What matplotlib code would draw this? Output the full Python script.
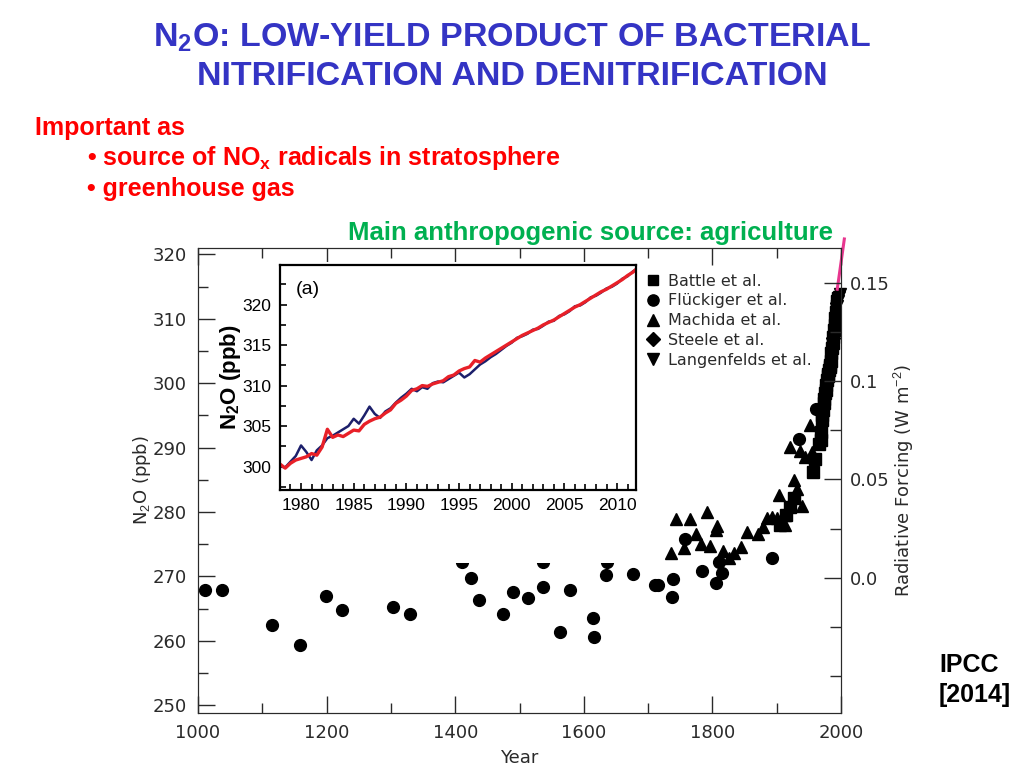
import matplotlib
matplotlib.use("Agg")
import matplotlib.pyplot as plt
from matplotlib.patches import Rectangle
from matplotlib.ticker import MultipleLocator, FixedLocator

plt.rcParams["mathtext.fontset"] = "custom"
plt.rcParams["mathtext.rm"] = "Liberation Sans"
plt.rcParams["mathtext.bf"] = "Liberation Sans:bold"

# ice core / flask records (year, ppb)
battle_yr = [1905, 1915, 1921, 1926, 1956, 1959, 1966, 1968, 1969, 1970, 1971, 1972,
             1973, 1974, 1975, 1976, 1977, 1978, 1979, 1980, 1981, 1982, 1983, 1984,
             1985, 1986, 1987, 1988, 1989, 1990, 1991, 1992, 1993, 1994, 1995, 1996]
battle_ppb = [278.0, 279.5, 280.8, 282.2, 286.2, 288.2, 290.5, 291.2, 292.5, 294.3, 295.0, 295.8,
              297.0, 297.5, 298.5, 299.0, 299.8, 300.5, 301.5, 301.2, 302.0, 302.8, 302.5, 303.5,
              304.7, 305.5, 306.3, 307.2, 308.3, 309.0, 310.2, 311.0, 312.0, 312.8, 313.2, 313.0]

fluckiger_yr = [1011, 1037, 1115, 1159, 1199, 1224, 1303, 1330, 1410, 1424, 1437, 1474,
                1489, 1513, 1537, 1537, 1563, 1578, 1614, 1615, 1634, 1636, 1676, 1711,
                1716, 1737, 1739, 1757, 1784, 1806, 1810, 1815, 1892, 1935, 1961]
fluckiger_ppb = [267.9, 267.9, 262.5, 259.4, 267.0, 264.8, 265.2, 264.1, 272.2, 269.7, 266.3, 264.1,
                 267.6, 266.6, 272.2, 268.3, 261.4, 267.9, 263.6, 260.6, 270.3, 272.2, 270.4, 268.7,
                 268.7, 266.8, 269.6, 275.8, 270.9, 269.0, 272.3, 270.5, 272.9, 291.4, 296.0]

machida_yr = [1735, 1744, 1765, 1756, 1774, 1782, 1791, 1796, 1806, 1807, 1816, 1826,
              1834, 1845, 1854, 1870, 1879, 1884, 1892, 1900, 1904, 1913, 1913, 1926,
              1931, 1939, 1921, 1936, 1944, 1954, 1951]
machida_ppb = [273.6, 278.9, 278.9, 274.4, 276.6, 275.0, 280.0, 274.7, 277.2, 277.8, 274.0, 272.9,
               273.6, 274.6, 276.9, 276.6, 277.7, 279.1, 279.2, 279.1, 282.7, 279.5, 278.0, 285.0,
               283.6, 281.0, 290.1, 289.5, 288.6, 289.3, 293.5]

steele_yr = [1988, 1990, 1992, 1994, 1996, 1998]
steele_ppb = [307.0, 308.8, 310.8, 312.5, 313.3, 313.7]

langenfelds_yr = [1993, 1995, 1997, 1999]
langenfelds_ppb = [312.0, 312.8, 313.4, 313.8]

# pink trend stroke beyond the frame
trend_yr = [1994, 2005]
trend_ppb = [314.6, 322.4]

# inset (a): instrumental record
inset_yr = [1978.0 + 0.5 * i for i in range(69)]
inset_red = [300.3, 299.8, 300.4, 300.8, 301.0, 301.2, 301.6, 301.4, 302.4, 304.6,
             303.6, 303.9, 303.7, 304.1, 304.5, 304.4, 305.2, 305.6, 305.9, 306.1,
             306.6, 307.0, 307.8, 308.2, 308.7, 309.4, 309.6, 310.0, 309.9, 310.2,
             310.4, 310.6, 311.1, 311.3, 311.8, 312.1, 312.3, 313.1, 312.9, 313.4,
             313.8, 314.2, 314.6, 315.0, 315.4, 315.8, 316.2, 316.5, 316.8, 317.1,
             317.5, 317.8, 318.1, 318.5, 318.9, 319.3, 319.7, 320.0, 320.4, 320.8,
             321.2, 321.6, 321.9, 322.3, 322.7, 323.1, 323.6, 324.0, 324.6]
inset_blue = [300.0, 299.9, 300.6, 301.3, 302.6, 301.8, 300.8, 302.0, 302.6, 303.5,
              303.8, 304.2, 304.6, 305.0, 305.9, 305.3, 306.3, 307.4, 306.5, 306.0,
              306.8, 307.2, 307.9, 308.5, 309.0, 309.6, 309.3, 309.8, 309.6, 310.3,
              310.5, 310.4, 310.8, 311.2, 311.6, 311.0, 311.4, 312.0, 312.6, 313.0,
              313.5, 313.9, 314.4, 314.9, 315.3, 315.9, 316.1, 316.4, 316.9, 317.0,
              317.4, 317.9, 318.0, 318.6, 318.8, 319.2, 319.8, 319.9, 320.3, 320.9,
              321.1, 321.5, 322.0, 322.2, 322.6, 323.2, 323.5, 324.1, 324.5]

xticks = [1000, 1200, 1400, 1600, 1800, 2000]
lticks = [250, 260, 270, 280, 290, 300, 310, 320]
rticks = [0.0, 0.05, 0.1, 0.15]
rtick_labels = ["0.0", "0.05", "0.1", "0.15"]
inset_xticks = [1980, 1985, 1990, 1995, 2000, 2005, 2010]
inset_yticks = [300, 305, 310, 315, 320]

gray = "#2a2a2a"
fig = plt.figure(figsize=(10.24, 7.68), dpi=100)

# main axes
ax = fig.add_axes([0.1934, 0.0716, 0.628, 0.6055], zorder=1)
mk = dict(ls="none", color="black", ms=8.5, clip_on=False)
ax.plot(battle_yr, battle_ppb, marker="s", label="Battle et al.", ls="none", color="black", ms=8)
ax.plot(fluckiger_yr, fluckiger_ppb, marker="o", label="Flückiger et al.", **mk)
ax.plot(machida_yr, machida_ppb, marker="^", label="Machida et al.", **mk)
ax.plot(steele_yr, steele_ppb, marker="D", label="Steele et al.", ls="none", color="black", ms=7)
ax.plot(langenfelds_yr, langenfelds_ppb, marker="v", label="Langenfelds et al.", **mk)
ax.plot(trend_yr, trend_ppb, color="#e8368f", lw=2.2, clip_on=False)

ax.set_xlim(1000, 2000)
ax.set_ylim(248.8, 321)
ax.xaxis.set_major_locator(FixedLocator(xticks))
ax.xaxis.set_minor_locator(MultipleLocator(100))
ax.yaxis.set_major_locator(FixedLocator(lticks))
ax.yaxis.set_minor_locator(MultipleLocator(5))
ax.tick_params(which="both", direction="in", top=True, right=False, colors=gray,
               labelsize=13, width=1)
ax.tick_params(which="major", length=12, pad=8)
ax.tick_params(which="minor", length=7)
for s in ax.spines.values():
    s.set_color(gray)
ax.set_xlabel("Year", fontsize=13, color=gray, labelpad=5)
ax.set_ylabel("N$_2$O (ppb)", fontsize=13, color=gray, labelpad=0)

leg = ax.legend(loc="upper left", bbox_to_anchor=(0.683, 0.962), frameon=False,
                fontsize=11.5, handletextpad=0.45, labelspacing=0.3, borderpad=0,
                handlelength=1.0, markerscale=0.95)
for t in leg.get_texts():
    t.set_color(gray)

# right axis: radiative forcing
ax2 = ax.twinx()
ax2.set_zorder(1)
ax2.set_ylim(-0.0688, 0.1677)
ax2.set_yticks(rticks)
ax2.set_yticklabels(rtick_labels)
ax2.yaxis.set_minor_locator(MultipleLocator(0.025))
ax2.tick_params(which="both", direction="in", colors=gray, labelsize=13, width=1)
ax2.tick_params(which="major", length=12, pad=6)
ax2.tick_params(which="minor", length=8)
for s in ax2.spines.values():
    s.set_color(gray)
ax2.set_ylabel("Radiative Forcing (W m$^{-2}$)", fontsize=13, color=gray, labelpad=2)

# white paste-over behind the inset
fig.add_artist(Rectangle((0.2686, 0.267), 0.357, 0.392, transform=fig.transFigure,
                         facecolor="white", edgecolor="none", zorder=2))

# inset (a)
sans = ["Liberation Sans", "DejaVu Sans"]
axi = fig.add_axes([0.2734, 0.362, 0.3477, 0.293], zorder=3)
axi.plot(inset_yr, inset_blue, color="#1c1f6b", lw=1.8)
axi.plot(inset_yr, inset_red, color="#e82028", lw=2.4)
axi.set_xlim(1978, 2011.8)
axi.set_ylim(297.1, 324.9)
axi.xaxis.set_major_locator(FixedLocator(inset_xticks))
axi.xaxis.set_minor_locator(MultipleLocator(1))
axi.yaxis.set_major_locator(FixedLocator(inset_yticks))
axi.yaxis.set_minor_locator(MultipleLocator(2.5))
axi.tick_params(which="both", direction="in", labelsize=12.5, width=1.2, color="black")
axi.tick_params(which="major", length=5, pad=6)
axi.tick_params(which="minor", length=4)
for lab in axi.get_xticklabels() + axi.get_yticklabels():
    lab.set_family(sans)
for s in axi.spines.values():
    s.set_linewidth(1.6)
axi.set_ylabel("N$_\\mathbf{2}$O (ppb)", fontsize=16, fontweight="bold", family=sans,
               labelpad=0)
axi.text(0.045, 0.93, "(a)", transform=axi.transAxes, fontsize=14, family=sans,
         va="top", ha="left")

# slide text
blue = "#3434c4"
fig.text(0.5, 0.951, "N$_\\mathbf{2}$O: LOW-YIELD PRODUCT OF BACTERIAL", ha="center", va="center",
         fontsize=24.5, fontweight="bold", color=blue, family=sans)
fig.text(0.5, 0.9, "NITRIFICATION AND DENITRIFICATION", ha="center", va="center",
         fontsize=24.5, fontweight="bold", color=blue, family=sans)
red = "#ff0000"
fig.text(0.034, 0.833, "Important as", ha="left", va="center", fontsize=18,
         fontweight="bold", color=red, family=sans)
fig.text(0.085, 0.794, "\u2022 source of NO$_\\mathbf{x}$ radicals in stratosphere", ha="left",
         va="center", fontsize=18, fontweight="bold", color=red, family=sans)
fig.text(0.085, 0.754, "\u2022 greenhouse gas", ha="left", va="center", fontsize=18,
         fontweight="bold", color=red, family=sans)
fig.text(0.34, 0.697, "Main anthropogenic source: agriculture", ha="left", va="center",
         fontsize=18.5, fontweight="bold", color="#00b050", family=sans)
fig.text(0.917, 0.134, "IPCC", ha="left", va="center", fontsize=18, fontweight="bold",
         color="black", family=sans)
fig.text(0.917, 0.095, "[2014]", ha="left", va="center", fontsize=18, fontweight="bold",
         color="black", family=sans)

plt.savefig("out.png", dpi=100)
